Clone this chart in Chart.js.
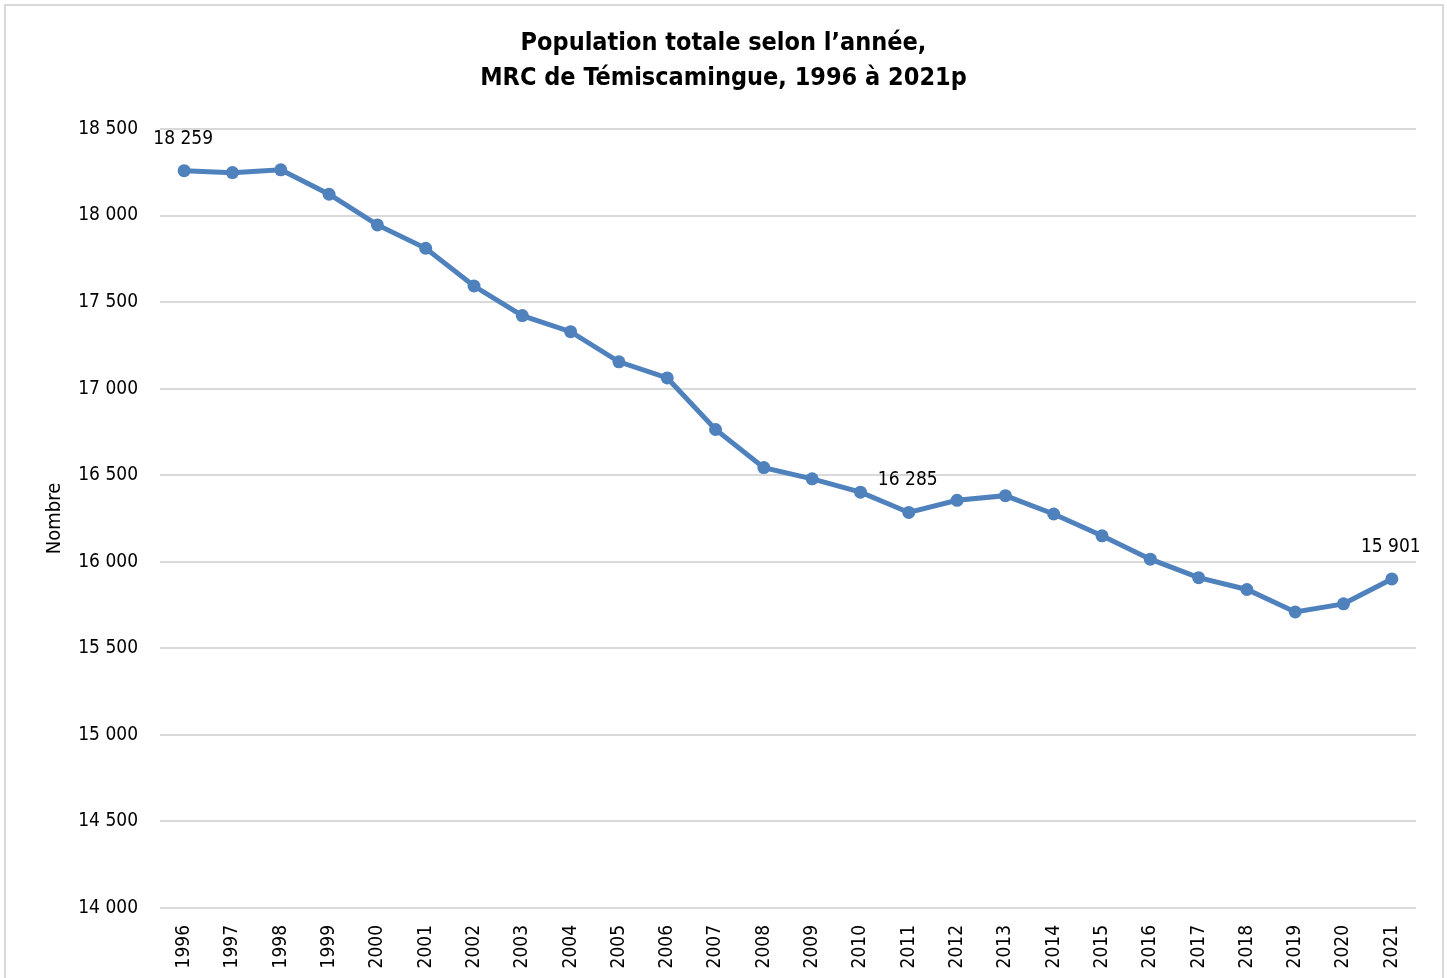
<!DOCTYPE html>
<html lang="fr">
<head>
<meta charset="utf-8">
<title>Population totale selon l'année, MRC de Témiscamingue</title>
<script src="https://cdn.jsdelivr.net/npm/chart.js@4.4.1/dist/chart.umd.min.js"></script>
<style>
  html, body { margin: 0; padding: 0; background: #fff; }
  #wrap { position: relative; width: 1447px; height: 978px; }
  #frame { position: absolute; left: 4px; top: 4px; width: 1436px; height: 980px; border: 2px solid #d9d9d9; pointer-events: none; }
</style>
</head>
<body>
<div id="wrap">
  <canvas id="popChart" width="1447" height="978"></canvas>
  <div id="frame"></div>
</div>
<script>
const years = ['1996', '1997', '1998', '1999', '2000', '2001', '2002', '2003', '2004', '2005',
  '2006', '2007', '2008', '2009', '2010', '2011', '2012', '2013', '2014', '2015',
  '2016', '2017', '2018', '2019', '2020', '2021'];
const population = [18259, 18248, 18264, 18123, 17946, 17811, 17593, 17422, 17329, 17155,
  17062, 16764, 16544, 16479, 16402, 16285, 16355, 16382, 16276, 16150,
  16015, 15908, 15840, 15710, 15757, 15901];
const labelledYears = ['1996', '2011', '2021'];
const yTicks = [14000, 14500, 15000, 15500, 16000, 16500, 17000, 17500, 18000, 18500];

const FONT = '"Liberation Sans Narrow", "Arial Narrow", "DejaVu Sans Condensed", sans-serif';
const BLUE = '#4f81bd';

const fmt = (v) => String(v).replace(/\B(?=(\d{3})+(?!\d))/g, ' ');

// valeurs affichées au-dessus de certains points
const pointLabels = {
  id: 'pointLabels',
  afterDatasetsDraw(chart) {
    const { ctx } = chart;
    const meta = chart.getDatasetMeta(0);
    ctx.save();
    ctx.font = '19px ' + FONT;
    ctx.fillStyle = '#000';
    ctx.textAlign = 'center';
    ctx.textBaseline = 'middle';
    years.forEach((yr, i) => {
      if (!labelledYears.includes(yr)) return;
      const pt = meta.data[i];
      ctx.fillText(fmt(population[i]), pt.x - 1, pt.y - 32);
    });
    ctx.restore();
  },
};

new Chart(document.getElementById('popChart'), {
  type: 'line',
  data: {
    labels: years,
    datasets: [{
      data: population,
      borderColor: BLUE,
      backgroundColor: BLUE,
      borderWidth: 5,
      pointRadius: 6.5,
      pointBorderWidth: 0,
      tension: 0,
      fill: false,
    }],
  },
  options: {
    responsive: false,
    animation: false,
    layout: { padding: 0 },
    plugins: {
      legend: { display: false },
      tooltip: { enabled: false },
      title: {
        display: true,
        text: ['Population totale selon l\u2019année,', 'MRC de Témiscamingue, 1996 à 2021p'],
        color: '#000',
        font: { family: FONT, size: 25, weight: 'bold', lineHeight: 1.4 },
        padding: { top: 26, bottom: 33 },
      },
    },
    scales: {
      x: {
        offset: true,
        afterFit(scale) { scale.height = 70; },
        grid: { display: false, drawTicks: false },
        border: { display: false },
        ticks: {
          color: '#000',
          font: { family: FONT, size: 19 },
          minRotation: 90,
          maxRotation: 90,
          padding: 17,
          autoSkip: false,
        },
      },
      y: {
        min: 14000,
        max: 18500,
        afterBuildTicks(scale) {
          scale.ticks = yTicks.map((v) => ({ value: v }));
        },
        afterFit(scale) { scale.width = 160; },
        grid: { color: '#d9d9d9', lineWidth: 2, drawTicks: false },
        border: { display: false },
        ticks: {
          color: '#000',
          font: { family: FONT, size: 19 },
          padding: 22,
          callback: (v) => fmt(v),
        },
        title: {
          display: true,
          text: 'Nombre',
          color: '#000',
          font: { family: FONT, size: 20 },
          padding: { top: 43, bottom: 0 },
        },
      },
      // marge droite vide, pour garder le titre centré sur toute la largeur
      yRight: {
        position: 'right',
        min: 14000,
        max: 18500,
        afterFit(scale) { scale.width = 31; },
        grid: { display: false, drawTicks: false },
        border: { display: false },
        ticks: { display: false },
      },
    },
  },
  plugins: [pointLabels],
});
</script>
</body>
</html>
